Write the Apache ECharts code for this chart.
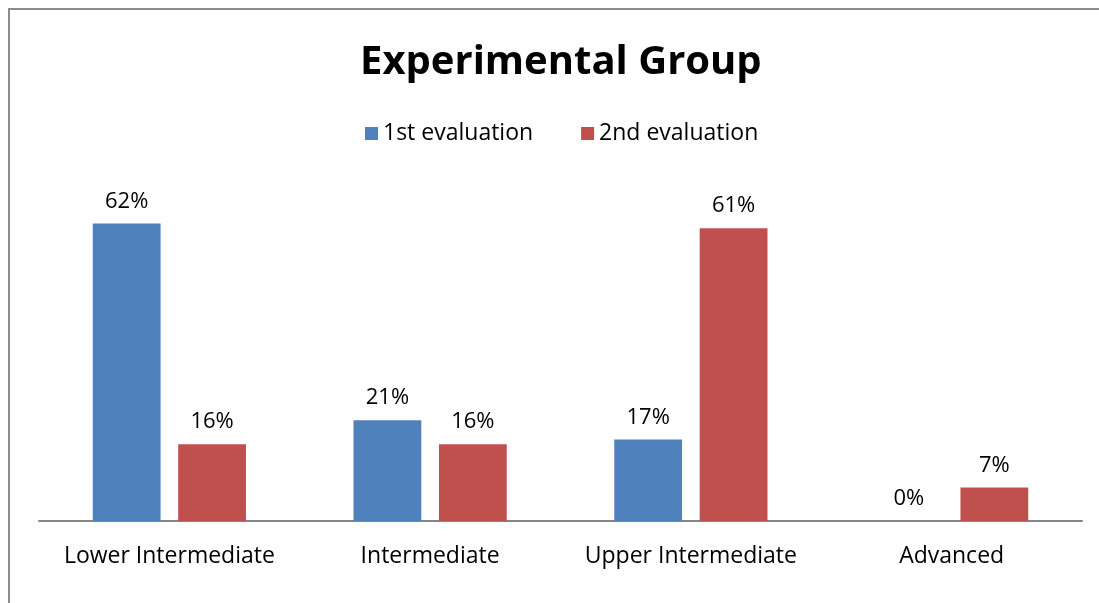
<!DOCTYPE html>
<html>
<head>
<meta charset="utf-8">
<title>Experimental Group</title>
<script src="https://cdn.jsdelivr.net/npm/echarts@6/dist/echarts.min.js"></script>
<style>
  html, body { margin: 0; padding: 0; background: #fff; }
  #chart { width: 1099px; height: 603px; }
</style>
</head>
<body>
<div id="chart"></div>
<script>
const categories = ['Lower Intermediate', 'Intermediate', 'Upper Intermediate', 'Advanced']
const firstEval = [62, 21, 17, 0]
const secondEval = [16, 16, 61, 7]
const seriesNames = ['1st evaluation', '2nd evaluation']

const FONT = '"Open Sans", "Noto Sans", sans-serif'

const chart = echarts.init(document.getElementById('chart'))

const labelStyle = {
  show: true,
  position: 'top',
  distance: 11,
  formatter: '{c}%',
  color: '#000',
  fontSize: 22,
  fontFamily: FONT
}

chart.setOption({
  animation: false,
  backgroundColor: '#fff',
  graphic: [{
    type: 'rect',
    shape: { x: 9, y: 9, width: 1200, height: 700 },
    style: { fill: 'none', stroke: '#8c8c8c', lineWidth: 2 },
    silent: true
  }],
  title: {
    text: 'Experimental Group',
    left: 355,
    top: 38,
    textStyle: {
      fontFamily: FONT,
      fontWeight: 'bold',
      fontSize: 40,
      color: '#000'
    }
  },
  legend: {
    data: seriesNames,
    top: 117,
    left: 360,
    itemWidth: 13,
    itemHeight: 13,
    itemGap: 48,
    icon: 'rect',
    textStyle: { fontFamily: FONT, fontSize: 23, color: '#000' }
  },
  grid: {
    left: 39,
    right: 17,
    top: 185,
    bottom: 82,
    containLabel: false
  },
  xAxis: {
    type: 'category',
    data: categories,
    axisLine: { lineStyle: { color: '#868686', width: 2 } },
    axisTick: { show: false },
    axisLabel: {
      interval: 0,
      color: '#000',
      fontSize: 23,
      fontFamily: FONT,
      margin: 24
    }
  },
  yAxis: {
    type: 'value',
    min: 0,
    max: 70,
    show: false,
    splitLine: { show: false }
  },
  series: [
    {
      name: seriesNames[0],
      type: 'bar',
      data: firstEval,
      barWidth: '26%',
      barGap: '26%',
      itemStyle: { color: '#4f81bd' },
      label: labelStyle
    },
    {
      name: seriesNames[1],
      type: 'bar',
      data: secondEval,
      barWidth: '26%',
      itemStyle: { color: '#c0504d' },
      label: labelStyle
    }
  ]
})
</script>
</body>
</html>
